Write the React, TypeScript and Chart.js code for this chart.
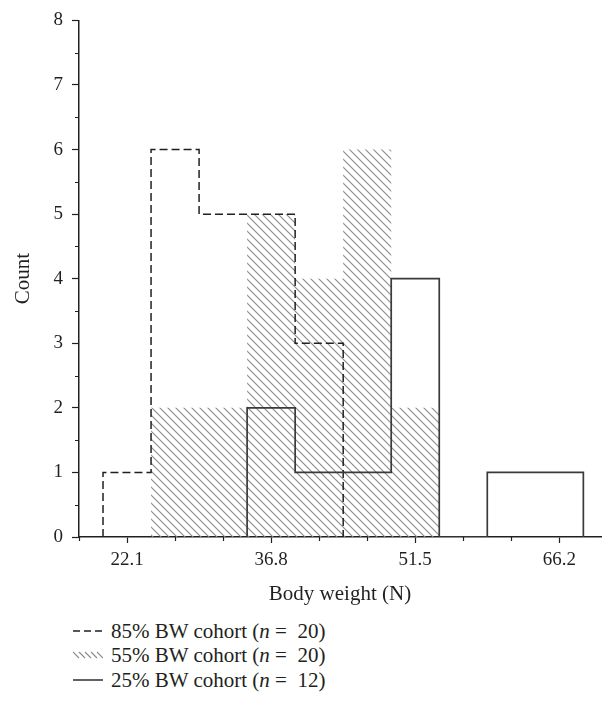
import React, { useEffect, useRef } from 'react';
import { Chart, registerables } from 'chart.js';

Chart.register(...registerables);

// ---- data ----
const binEdges = [19.65, 24.55, 29.45, 34.35, 39.25, 44.15, 49.05, 53.95, 58.85, 63.75, 68.65];
const counts85 = [1, 6, 5, 5, 3, 0, 0, 0, 0, 0];
const counts55 = [0, 2, 2, 5, 4, 6, 2, 0, 0, 0];
const counts25 = [0, 0, 0, 2, 1, 1, 4, 0, 1, 1];
const xMajorTicks = [22.1, 36.8, 51.5, 66.2];
const xMinorTicks = [17.2, 27.0, 31.9, 41.7, 46.6, 56.4, 61.3];
const yTicks = [0, 1, 2, 3, 4, 5, 6, 7, 8];
const yMinorTicks = [0.5, 1.5, 2.5, 3.5, 4.5, 5.5, 6.5, 7.5];
const xRange = [17.2, 70.45];
const yRange = [0, 8];
const seriesNames = ['85% BW cohort', '55% BW cohort', '25% BW cohort'];
const seriesN = [20, 20, 12];
const xTitle = 'Body weight (N)';
const yTitle = 'Count';

// ---- styles ----
const INK = '#231f20';
const HATCH = '#8a8a8a';
const FONT = "'Liberation Serif', 'DejaVu Serif', serif";

function stepOutline(counts: number[]) {
  const first = counts.findIndex((c) => c > 0);
  const last = counts.length - 1 - [...counts].reverse().findIndex((c) => c > 0);
  const pts: { x: number; y: number }[] = [{ x: binEdges[first], y: 0 }];
  for (let i = first; i <= last; i++) pts.push({ x: binEdges[i + 1], y: counts[i] });
  pts.push({ x: binEdges[last + 1], y: 0 });
  return pts;
}

function makeHatch(): CanvasPattern | string {
  const s = 8;
  const c = document.createElement('canvas');
  c.width = s;
  c.height = s;
  const g = c.getContext('2d');
  if (!g) return HATCH;
  g.strokeStyle = HATCH;
  g.lineWidth = 1.1;
  g.beginPath();
  g.moveTo(-1, -1);
  g.lineTo(s + 1, s + 1);
  g.moveTo(s - 2, -2);
  g.lineTo(s + 2, 2);
  g.moveTo(-2, s - 2);
  g.lineTo(2, s + 2);
  g.stroke();
  const p = g.createPattern(c, 'repeat');
  return p || HATCH;
}

const minorTicksPlugin = {
  id: 'minorTicks',
  afterDraw(chart: any) {
    const { ctx, scales, chartArea } = chart;
    const x = scales.x;
    const y = scales.y;
    ctx.save();
    ctx.strokeStyle = INK;
    ctx.lineWidth = 1.2;
    ctx.beginPath();
    xMinorTicks.forEach((v) => {
      const px = Math.round(x.getPixelForValue(v)) + 0.5;
      ctx.moveTo(px, chartArea.bottom);
      ctx.lineTo(px, chartArea.bottom + 4);
    });
    yMinorTicks.forEach((v) => {
      const py = Math.round(y.getPixelForValue(v)) + 0.5;
      ctx.moveTo(chartArea.left - 4, py);
      ctx.lineTo(chartArea.left, py);
    });
    ctx.stroke();
    ctx.restore();
  },
};

function LegendSymbol({ kind }: { kind: number }) {
  if (kind === 0) {
    return (
      <svg width={30} height={10} style={{ display: 'block' }}>
        <line x1={0} y1={5} x2={30} y2={5} stroke={INK} strokeWidth={1.4} strokeDasharray="7 4" />
      </svg>
    );
  }
  if (kind === 1) {
    const lines = [0, 6, 12, 18, 24];
    return (
      <svg width={30} height={10} style={{ display: 'block' }}>
        {lines.map((x0) => (
          <line key={x0} x1={x0} y1={2} x2={x0 + 6} y2={8} stroke={HATCH} strokeWidth={1.1} />
        ))}
      </svg>
    );
  }
  return (
    <svg width={30} height={10} style={{ display: 'block' }}>
      <line x1={0} y1={5} x2={30} y2={5} stroke={INK} strokeWidth={1.4} />
    </svg>
  );
}

export default function App() {
  const canvasRef = useRef<HTMLCanvasElement | null>(null);

  useEffect(() => {
    const canvas = canvasRef.current;
    if (!canvas) return;
    const hatch = makeHatch();
    const chart = new Chart(canvas, {
      type: 'line',
      data: {
        datasets: [
          {
            label: seriesNames[2],
            data: stepOutline(counts25),
            stepped: 'after',
            borderColor: '#3a3a3a',
            borderWidth: 1.7,
            pointRadius: 0,
            fill: false,
            order: 0,
          },
          {
            label: seriesNames[0],
            data: stepOutline(counts85),
            stepped: 'after',
            borderColor: INK,
            borderWidth: 1.5,
            borderDash: [8, 4],
            pointRadius: 0,
            fill: false,
            order: 1,
          },
          {
            label: seriesNames[1],
            data: stepOutline(counts55),
            stepped: 'after',
            borderColor: 'rgba(0,0,0,0)',
            borderWidth: 0,
            backgroundColor: hatch as any,
            pointRadius: 0,
            fill: 'origin',
            order: 2,
          },
        ],
      } as any,
      options: {
        animation: false,
        responsive: false,
        maintainAspectRatio: false,
        layout: { padding: { top: 15, right: 1, left: 0, bottom: 0 } },
        plugins: {
          legend: { display: false },
          tooltip: { enabled: false },
        },
        scales: {
          x: {
            type: 'linear',
            min: xRange[0],
            max: xRange[1],
            afterBuildTicks: (scale: any) => {
              scale.ticks = xMajorTicks.map((v) => ({ value: v }));
            },
            afterFit: (scale: any) => {
              scale.height = 73;
            },
            ticks: {
              callback: (v: any) => Number(v).toFixed(1),
              font: { family: FONT, size: 19 },
              color: INK,
              padding: 6,
              maxRotation: 0,
              autoSkip: false,
            },
            grid: {
              drawOnChartArea: false,
              drawTicks: true,
              tickLength: 6,
              tickColor: INK,
              tickWidth: 1.2,
            },
            border: { display: true, color: INK, width: 1.5 },
            title: {
              display: true,
              text: xTitle,
              font: { family: FONT, size: 21 },
              color: INK,
              padding: { top: 0, bottom: 3 },
            },
          },
          y: {
            type: 'linear',
            min: yRange[0],
            max: yRange[1],
            afterBuildTicks: (scale: any) => {
              scale.ticks = yTicks.map((v) => ({ value: v }));
            },
            afterFit: (scale: any) => {
              scale.width = 79;
            },
            ticks: {
              font: { family: FONT, size: 19 },
              color: INK,
              padding: 9,
            },
            grid: {
              drawOnChartArea: false,
              drawTicks: true,
              tickLength: 7,
              tickColor: INK,
              tickWidth: 1.2,
            },
            border: { display: true, color: INK, width: 1.5 },
            title: {
              display: true,
              text: yTitle,
              font: { family: FONT, size: 21 },
              color: INK,
              padding: { top: 11, bottom: 0 },
            },
          },
        },
      } as any,
      plugins: [minorTicksPlugin],
    });
    return () => {
      chart.destroy();
    };
  }, []);

  const legendOrder = [0, 1, 2];
  const rowTops = [619, 643, 668];

  return (
    <div
      style={{
        position: 'fixed',
        left: 0,
        top: 0,
        width: 602,
        height: 708,
        background: '#ffffff',
        overflow: 'hidden',
      }}
    >
      <canvas ref={canvasRef} width={602} height={610} style={{ position: 'absolute', left: 0, top: 0 }} />
      {legendOrder.map((k, i) => (
        <div
          key={k}
          style={{
            position: 'absolute',
            left: 73,
            top: rowTops[i],
            height: 24,
            display: 'flex',
            alignItems: 'center',
            fontFamily: FONT,
            fontSize: 21,
            color: INK,
            whiteSpace: 'pre',
          }}
        >
          <LegendSymbol kind={k} />
          <span style={{ marginLeft: 8 }}>
            {seriesNames[k] + ' ('}
            <i>n</i>
            {' =  ' + seriesN[k] + ')'}
          </span>
        </div>
      ))}
    </div>
  );
}
